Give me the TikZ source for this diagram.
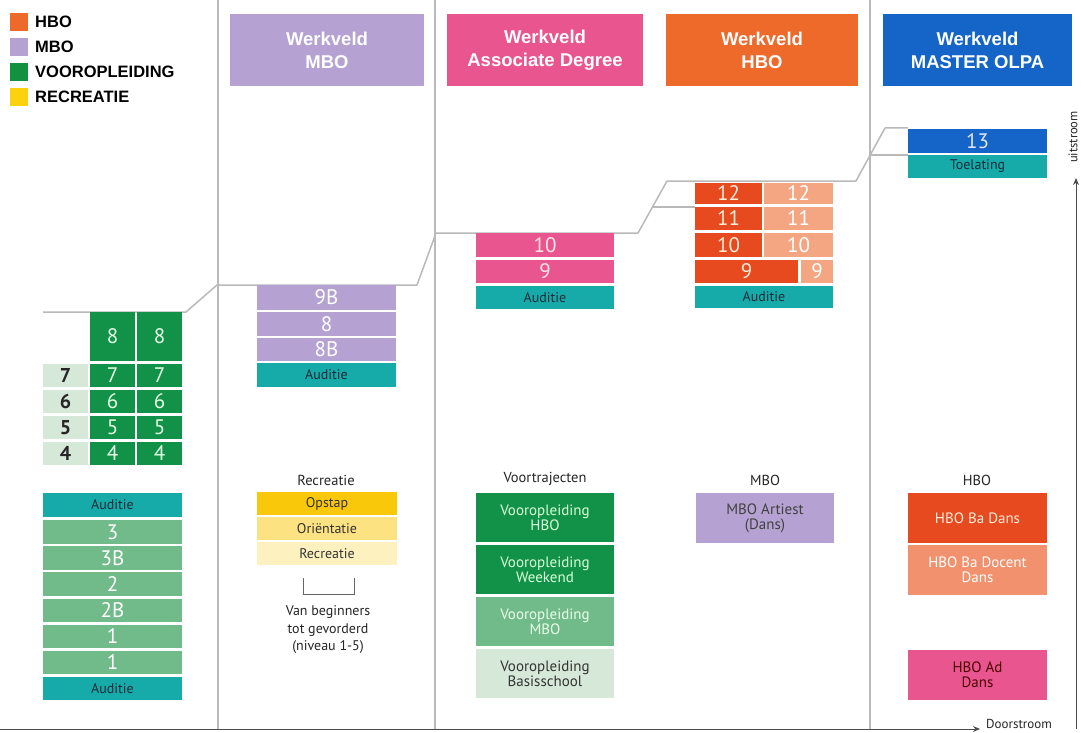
\documentclass[tikz,border=0pt]{standalone}
\usepackage{fontspec}
\setmainfont{PT Sans}
\newfontfamily\hfont{Liberation Sans}
\usetikzlibrary{arrows.meta}
\definecolor{hbo}{RGB}{238,106,43}
\definecolor{hbodark}{RGB}{230,74,30}
\definecolor{hbolight}{RGB}{244,166,130}
\definecolor{hbodoc}{RGB}{242,145,110}
\definecolor{mbo}{RGB}{181,162,210}
\definecolor{ad}{RGB}{233,86,143}
\definecolor{master}{RGB}{21,101,200}
\definecolor{teal}{RGB}{22,170,168}
\definecolor{gdark}{RGB}{18,146,72}
\definecolor{gmid}{RGB}{112,187,137}
\definecolor{gpale}{RGB}{214,232,216}
\definecolor{rec1}{RGB}{249,200,10}
\definecolor{rec2}{RGB}{253,226,130}
\definecolor{rec3}{RGB}{254,241,192}
\definecolor{legrec}{RGB}{252,210,12}
\definecolor{leggreen}{RGB}{18,146,63}
\definecolor{lineg}{RGB}{185,185,185}
\definecolor{txtdark}{RGB}{30,45,60}
\tikzset{
  box/.style={draw=none, inner sep=0pt, align=center, font=\fontsize{15}{15}\selectfont},
  num/.style={font=\fontsize{21}{21}\selectfont, text depth=0pt},
  aud/.style={fill=teal, text=txtdark, font=\fontsize{14}{14}\selectfont},
  hdr/.style={draw=none, inner sep=0pt, align=center, text=white, font=\hfont\bfseries\fontsize{18.5}{23}\selectfont},
  leg/.style={anchor=west, inner sep=0pt, font=\hfont\bfseries\fontsize{16.5}{16.5}\selectfont},
  legsq/.style={draw=none, inner sep=0pt, minimum size=18pt},
  label/.style={inner sep=0pt, text=black!85, font=\fontsize{14.5}{15}\selectfont},
  grid/.style={draw=lineg, line width=1.5pt},
  step line/.style={draw=lineg, line width=1.5pt, line join=round},
  axis/.style={draw=black!70, line width=1pt, -{Stealth[length=7pt,width=6pt]}},
}
\newcommand\bx[7]{\node[box,#6,minimum width={(#4-#2)*1pt}, minimum height={(#5-#3)*1pt}] (#1) at ({(#2+#4)/2},{(#3+#5)/2}) {#7};}
\begin{document}
\begin{tikzpicture}[x=1pt,y=-1pt]
\useasboundingbox (0,0) rectangle (1081,733);
\fill[white] (0,0) rectangle (1081,733);
% legend
\node[legsq,fill=hbo] (lq1) at (19,22) {};
\node[leg] (lt1) at (35,22) {HBO};
\node[legsq,fill=mbo] (lq2) at (19,47) {};
\node[leg] (lt2) at (35,47) {MBO};
\node[legsq,fill=leggreen] (lq3) at (19,72) {};
\node[leg] (lt3) at (35,72) {VOOROPLEIDING};
\node[legsq,fill=legrec] (lq4) at (19,97) {};
\node[leg] (lt4) at (35,97) {RECREATIE};
% column separators
\coordinate (s1t) at (218,0); \coordinate (s1b) at (218,729);
\coordinate (s2t) at (435,0); \coordinate (s2b) at (435,729);
\coordinate (s3t) at (870,0); \coordinate (s3b) at (870,729);
\draw[grid] (s1t) -- (s1b);
\draw[grid] (s2t) -- (s2b);
\draw[grid] (s3t) -- (s3b);
% headers
\bx{hmbo}{230}{14}{424}{86}{hdr,fill=mbo}{Werkveld\\MBO}
\bx{had}{447}{14}{643}{86}{hdr,fill=ad}{Werkveld\\Associate Degree}
\bx{hhbo}{666}{14}{858}{86}{hdr,fill=hbo}{Werkveld\\HBO}
\bx{hmas}{883}{14}{1072}{86}{hdr,fill=master}{Werkveld\\MASTER OLPA}
% step line
\coordinate (p0) at (43,312); \coordinate (p1) at (186,312);
\coordinate (p2) at (217,285); \coordinate (p3) at (417,285);
\coordinate (p4) at (436,233); \coordinate (p5) at (638,233);
\coordinate (p6) at (667,181); \coordinate (p7) at (856,181);
\coordinate (p8) at (885,128); \coordinate (p9) at (908,128);
\coordinate (q0) at (652,207); \coordinate (q1) at (695,207);
\coordinate (r0) at (870,155); \coordinate (r1) at (908,155);
\draw[step line] (p0) -- (p1) -- (p2) -- (p3) -- (p4) -- (p5) -- (p6) -- (p7) -- (p8) -- (p9);
\draw[step line] (q0) -- (q1);
\draw[step line] (r0) -- (r1);
% left column upper
\bx{a8}{90}{312}{135}{361}{num,fill=gdark,text=green!10}{8}
\bx{b8}{137}{312}{182}{361}{num,fill=gdark,text=green!10}{8}
\bx{c7}{43}{364}{88}{387}{num,fill=gpale,text=black!85,font=\bfseries\fontsize{20}{20}\selectfont}{7}
\bx{a7}{90}{364}{135}{387}{num,fill=gdark,text=green!10}{7}
\bx{b7}{137}{364}{182}{387}{num,fill=gdark,text=green!10}{7}
\bx{c6}{43}{390}{88}{413}{num,fill=gpale,text=black!85,font=\bfseries\fontsize{20}{20}\selectfont}{6}
\bx{a6}{90}{390}{135}{413}{num,fill=gdark,text=green!10}{6}
\bx{b6}{137}{390}{182}{413}{num,fill=gdark,text=green!10}{6}
\bx{c5}{43}{416}{88}{439}{num,fill=gpale,text=black!85,font=\bfseries\fontsize{20}{20}\selectfont}{5}
\bx{a5}{90}{416}{135}{439}{num,fill=gdark,text=green!10}{5}
\bx{b5}{137}{416}{182}{439}{num,fill=gdark,text=green!10}{5}
\bx{c4}{43}{442}{88}{465}{num,fill=gpale,text=black!85,font=\bfseries\fontsize{20}{20}\selectfont}{4}
\bx{a4}{90}{442}{135}{465}{num,fill=gdark,text=green!10}{4}
\bx{b4}{137}{442}{182}{465}{num,fill=gdark,text=green!10}{4}
% left column lower
\bx{la1}{43}{493}{182}{517}{aud}{Auditie}
\bx{l3}{43}{520}{182}{544}{num,fill=gmid,text=white}{3}
\bx{l3b}{43}{546}{182}{570}{num,fill=gmid,text=white}{3B}
\bx{l2}{43}{572}{182}{596}{num,fill=gmid,text=white}{2}
\bx{l2b}{43}{599}{182}{622}{num,fill=gmid,text=white}{2B}
\bx{l1a}{43}{625}{182}{648}{num,fill=gmid,text=white}{1}
\bx{l1b}{43}{651}{182}{674}{num,fill=gmid,text=white}{1}
\bx{la2}{43}{677}{182}{700}{aud}{Auditie}
% MBO column
\bx{m9b}{257}{285}{396}{310}{num,fill=mbo,text=white}{9B}
\bx{m8}{257}{312}{396}{336}{num,fill=mbo,text=white}{8}
\bx{m8b}{257}{338}{396}{361}{num,fill=mbo,text=white}{8B}
\bx{maud}{257}{363}{396}{387}{aud}{Auditie}
\node[label] (lrec) at (326,480) {Recreatie};
\bx{rop}{257}{492}{397}{515}{fill=rec1,text=black!80,font=\fontsize{14}{14}\selectfont}{Opstap}
\bx{ror}{257}{517}{397}{540}{fill=rec2,text=black!80,font=\fontsize{14}{14}\selectfont}{Oriëntatie}
\bx{rre}{257}{542}{397}{565}{fill=rec3,text=black!80,font=\fontsize{14}{14}\selectfont}{Recreatie}
\coordinate (br1) at (303,578); \coordinate (br2) at (303,594);
\coordinate (br3) at (354,594); \coordinate (br4) at (354,578);
\draw[draw=black!60, line width=1pt] (br1) -- (br2) -- (br3) -- (br4);
\node[label, align=center, font=\fontsize{14}{17.5}\selectfont] (lvan) at (328,630) {Van beginners\\tot gevorderd\\(niveau 1-5)};
% AD column
\bx{d10}{476}{233}{614}{257}{num,fill=ad,text=pink!40}{10}
\bx{d9}{476}{260}{614}{283}{num,fill=ad,text=pink!40}{9}
\bx{daud}{476}{286}{614}{309}{aud}{Auditie}
\node[label] (lvoor) at (545,479) {Voortrajecten};
\bx{v1}{476}{493}{614}{542}{fill=gdark,text=green!15}{Vooropleiding\\HBO}
\bx{v2}{476}{545}{614}{594}{fill=gdark,text=green!15}{Vooropleiding\\Weekend}
\bx{v3}{476}{597}{614}{646}{fill=gmid,text=green!8}{Vooropleiding\\MBO}
\bx{v4}{476}{649}{614}{698}{fill=gpale,text=black!80}{Vooropleiding\\Basisschool}
% HBO column
\bx{h12a}{695}{183}{762}{204}{num,fill=hbodark,text=orange!15}{12}
\bx{h12b}{764}{183}{833}{204}{num,fill=hbolight,text=white}{12}
\bx{h11a}{695}{207}{762}{230}{num,fill=hbodark,text=orange!15}{11}
\bx{h11b}{764}{207}{833}{230}{num,fill=hbolight,text=white}{11}
\bx{h10a}{695}{233}{762}{257}{num,fill=hbodark,text=orange!15}{10}
\bx{h10b}{764}{233}{833}{257}{num,fill=hbolight,text=white}{10}
\bx{h9a}{695}{260}{798}{283}{num,fill=hbodark,text=orange!15}{9}
\bx{h9b}{801}{260}{833}{283}{num,fill=hbolight,text=white}{9}
\bx{haud}{695}{286}{833}{308}{aud}{Auditie}
\node[label] (lmbo) at (765,480) {MBO};
\bx{mart}{696}{493}{834}{543}{fill=mbo,text=black!75}{MBO Artiest\\(Dans)}
% Master column
\bx{m13}{908}{129}{1047}{153}{num,fill=master,text=blue!10}{13}
\bx{mtoe}{908}{155}{1047}{178}{aud}{Toelating}
\node[label] (lhbo) at (977,480) {HBO};
\bx{hba}{908}{493}{1047}{543}{fill=hbodark,text=orange!15}{HBO Ba Dans}
\bx{hbd}{908}{545}{1047}{595}{fill=hbodoc,text=white}{HBO Ba Docent\\Dans}
\bx{had2}{908}{650}{1047}{700}{fill=ad,text=black!70!red}{HBO Ad\\Dans}
% axes
\coordinate (ax0) at (0,729); \coordinate (ax1) at (980,729);
\draw[axis] (ax0) -- (ax1);
\node[label, anchor=west, font=\fontsize{13}{13}\selectfont] (door) at (986,724) {Doorstroom};
\coordinate (ay0) at (1076,729); \coordinate (ay1) at (1076,178);
\draw[axis] (ay0) -- (ay1);
\node[label, rotate=90, font=\fontsize{12.5}{12.5}\selectfont] (uit) at (1073,137) {uitstroom};
\end{tikzpicture}
\end{document}
